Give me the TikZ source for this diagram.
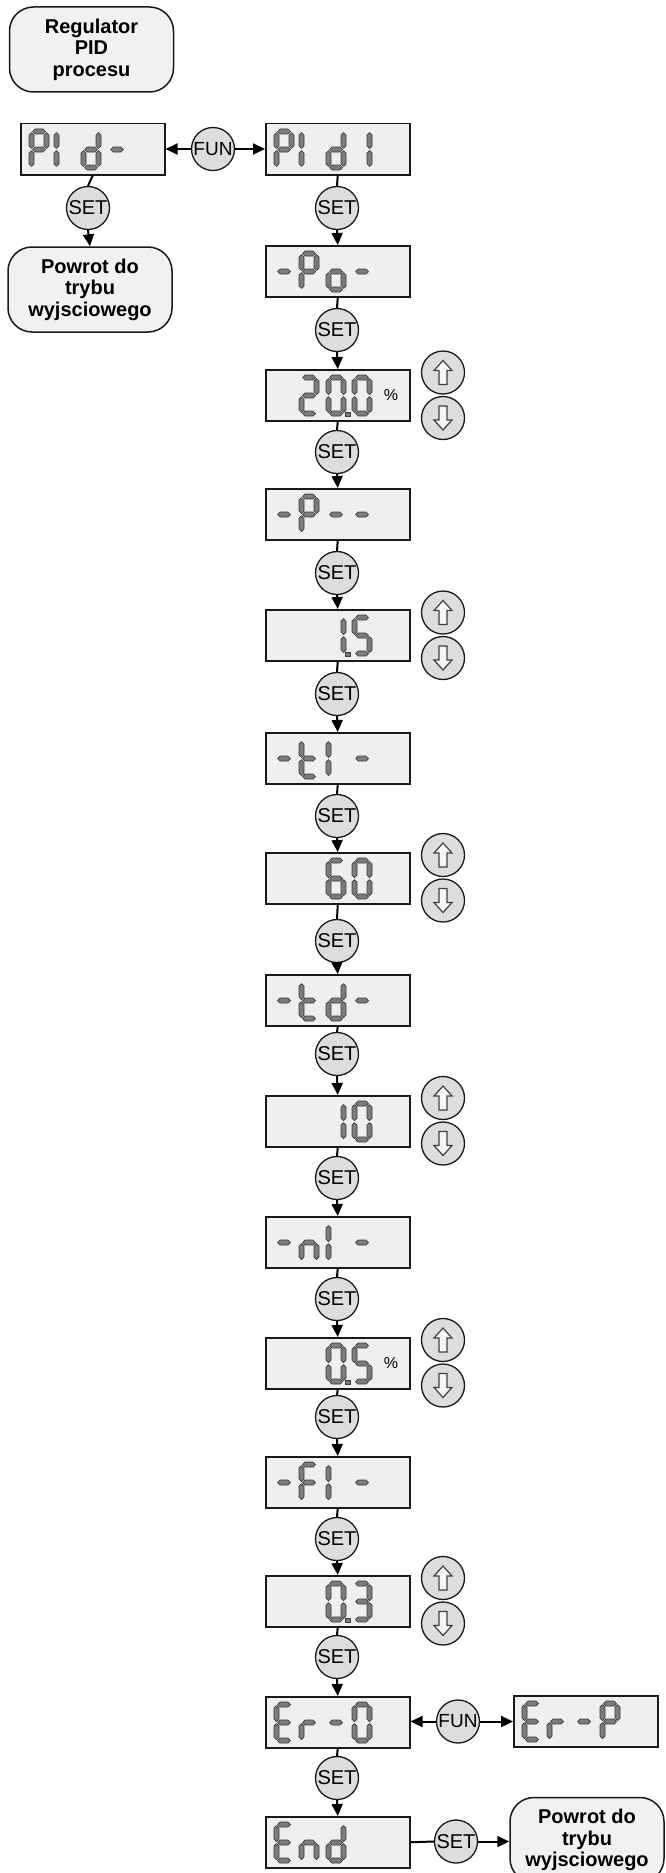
\documentclass[tikz,border=0pt]{standalone}
\usepackage{fontspec}
\setmainfont{Liberation Sans}
\usetikzlibrary{arrows.meta}
\definecolor{lcdfill}{HTML}{EFEFEF}
\definecolor{btnfill}{HTML}{DDDDDD}
\definecolor{rfill}{HTML}{F1F1F1}
\definecolor{segfill}{HTML}{7C7C7C}
\definecolor{segline}{HTML}{3A3A3A}
\definecolor{glyphfill}{HTML}{F6F6F6}
\tikzset{
  lcdbox/.style={draw=black!90, fill=lcdfill, line width=1.5pt, minimum width=144pt, minimum height=51pt, inner sep=0pt, anchor=north west},
  seg/.style={fill=segfill, draw=segline, line width=0.7pt, line join=round},
  btn/.style={circle, draw=black!90, fill=btnfill, line width=1.3pt, minimum size=43pt, inner sep=0pt, font=\fontsize{20}{20}\selectfont},
  funbtn/.style={btn, font=\fontsize{19}{19}\selectfont},
  rbox/.style={draw=black!90, fill=rfill, line width=1.5pt, rounded corners=24pt, minimum width=164pt, minimum height=85pt, align=center, inner sep=0pt, font=\fontsize{20}{21.5}\selectfont\bfseries},
  conn/.style={line width=2pt, black},
  arr/.style={conn, -{Triangle[width=11pt,length=12pt]}},
  glyph/.style={fill=glyphfill, draw=black!75, line width=1.2pt, line join=miter},
  pct/.style={font=\fontsize{16}{16}\selectfont, inner sep=0pt}
}
% seven segment helpers
\newcommand\hseg[3]{\pgfmathsetmacro\ha{#1}\pgfmathsetmacro\hb{#2}\pgfmathsetmacro\hy{#3}%
  \filldraw[seg] (\ha,\hy) -- ({\ha+2.5},{\hy-2.5}) -- ({\hb-2.5},{\hy-2.5}) -- (\hb,\hy) -- ({\hb-2.5},{\hy+2.5}) -- ({\ha+2.5},{\hy+2.5}) -- cycle;}
\newcommand\vseg[3]{\pgfmathsetmacro\vx{#1}\pgfmathsetmacro\va{#2}\pgfmathsetmacro\vb{#3}%
  \filldraw[seg] (\vx,\va) -- ({\vx+2.5},{\va+2.5}) -- ({\vx+2.5},{\vb-2.5}) -- (\vx,\vb) -- ({\vx-2.5},{\vb-2.5}) -- ({\vx-2.5},{\va+2.5}) -- cycle;}
\newcommand\sga{\hseg{\cx+3.5}{\cx+16.5}{\cy+2.5}}
\newcommand\sgg{\hseg{\cx+3.5}{\cx+16.5}{\cy+20.5}}
\newcommand\sgd{\hseg{\cx+3.5}{\cx+16.5}{\cy+38.5}}
\newcommand\sgf{\vseg{\cx+2.5}{\cy+3.5}{\cy+19.5}}
\newcommand\sge{\vseg{\cx+2.5}{\cy+21.5}{\cy+37.5}}
\newcommand\sgb{\vseg{\cx+17.5}{\cy+3.5}{\cy+19.5}}
\newcommand\sgc{\vseg{\cx+17.5}{\cy+21.5}{\cy+37.5}}
\newcommand\dig[3]{\pgfmathsetmacro\cx{#1}\pgfmathsetmacro\cy{#2}%
  \foreach \s in {#3}{\csname sg\s\endcsname}}
\newcommand\lcd[7]{%
  \node[lcdbox] (#1) at (#2,#3) {};
  \dig{#2+9}{#3+6}{#4}\dig{#2+34}{#3+6}{#5}\dig{#2+61}{#3+6}{#6}\dig{#2+87}{#3+6}{#7}}
\newcommand\dpt[2]{\filldraw[seg] ({#1+80.5},{#2+43}) rectangle ++(4.5,4.5);}
\newcommand\upg[1]{\draw[glyph] (#1.center) ++(0,-12) -- ++(9,10) -- ++(-5,0) -- ++(0,14) -- ++(-8,0) -- ++(0,-14) -- ++(-5,0) -- cycle;}
\newcommand\dng[1]{\draw[glyph] (#1.center) ++(0,12) -- ++(9,-10) -- ++(-5,0) -- ++(0,-14) -- ++(-8,0) -- ++(0,14) -- ++(-5,0) -- cycle;}
\begin{document}
\begin{tikzpicture}[x=1pt,y=-1pt]
\useasboundingbox (0,0) rectangle (665,1873);
\fill[white] (0,0) rectangle (665,1873);

% rounded boxes
\node[rbox] (start) at (91.5,49.5) {Regulator\\PID\\procesu};
\node[rbox] (back1) at (90,289.5) {Powrot do\\trybu\\wyjsciowego};
\node[rbox, minimum width=154pt] (back2) at (587,1840) {Powrot do\\trybu\\wyjsciowego};

% displays
\lcd{b0}{20}{123}{a,b,f,g,e}{e,f}{b,c,d,e,g}{g}
\lcd{b1}{265}{123}{a,b,f,g,e}{e,f}{b,c,d,e,g}{b,c}
\lcd{b2}{265}{245}{g}{a,b,f,g,e}{c,d,e,g}{g}
\lcd{b3}{265}{369}{}{a,b,g,e,d}{a,b,c,d,e,f}{a,b,c,d,e,f}\dpt{265}{369}
\lcd{b4}{265}{488}{g}{a,b,f,g,e}{g}{g}
\lcd{b5}{265}{609}{}{}{b,c}{a,f,g,c,d}\dpt{265}{609}
\lcd{b6}{265}{732}{g}{f,e,d,g}{e,f}{g}
\lcd{b7}{265}{852}{}{}{a,f,g,e,d,c}{a,b,c,d,e,f}
\lcd{b8}{265}{974}{g}{f,e,d,g}{b,c,d,e,g}{g}
\lcd{b9}{265}{1095}{}{}{b,c}{a,b,c,d,e,f}
\lcd{b10}{265}{1216}{g}{c,e,g}{e,f}{g}
\lcd{b11}{265}{1337}{}{}{a,b,c,d,e,f}{a,f,g,c,d}\dpt{265}{1337}
\lcd{b12}{265}{1456}{g}{a,f,g,e}{e,f}{g}
\lcd{b13}{265}{1575}{}{}{a,b,c,d,e,f}{a,b,g,c,d}\dpt{265}{1575}
\lcd{b14}{265}{1696}{a,f,g,e,d}{e,g}{g}{a,b,c,d,e,f}
\lcd{b15}{513}{1695}{a,f,g,e,d}{e,g}{g}{a,b,f,g,e}
\lcd{b16}{265}{1816}{a,f,g,e,d}{c,e,g}{b,c,d,e,g}{}

\node[pct] (pc1) at (391,395) {\%};
\node[pct] (pc2) at (391,1362.5) {\%};

% buttons
\node[funbtn] (f1) at (213,149) {FUN};
\node[funbtn] (f2) at (458,1721.5) {FUN};
\node[btn] (s0) at (88,208) {SET};
\node[btn] (s1) at (337,208) {SET};
\node[btn] (s2) at (337,330) {SET};
\node[btn] (s3) at (337,452) {SET};
\node[btn] (s4) at (337,573) {SET};
\node[btn] (s5) at (337,694) {SET};
\node[btn] (s6) at (337,816) {SET};
\node[btn] (s7) at (337,941) {SET};
\node[btn] (s8) at (337,1054) {SET};
\node[btn] (s9) at (337,1178) {SET};
\node[btn] (s10) at (337,1299) {SET};
\node[btn] (s11) at (337,1417) {SET};
\node[btn] (s12) at (337,1539) {SET};
\node[btn] (s13) at (337,1657) {SET};
\node[btn] (s14) at (337,1778) {SET};
\node[btn] (s15) at (456,1841.5) {SET};

% up/down buttons
\foreach \n/\c in {1/395, 2/635, 3/877.5, 4/1120.5, 5/1362.5, 6/1600.5}{
  \node[btn] (u\n) at (443,\c-22.5) {};
  \node[btn] (d\n) at (443,\c+23) {};
  \upg{u\n}
  \dng{d\n}
}

% connectors
\draw[arr] (f1.west) -- (f1.west -| b0.east);
\draw[arr] (f1.east) -- (f1.east -| b1.west);
\draw[conn] (b0.south) -- (s0.north);
\draw[arr] (s0.south) -- (back1.north);
\foreach \i/\j in {1/2,2/3,3/4,4/5,5/6,6/7,7/8,8/9,9/10,10/11,11/12,12/13,13/14}{
  \draw[conn] (b\i.south) -- (s\i.north);
  \draw[arr] (s\i.south) -- (b\j.north);
}
\draw[conn] (b14.south) -- (s14.north);
\draw[arr] (s14.south) -- (b16.north);
\draw[arr] (f2.west) -- (f2.west -| b14.east);
\draw[arr] (f2.east) -- (f2.east -| b15.west);
\draw[conn] (b16.east) -- (s15.west);
\draw[arr] (s15.east) -- (s15.east -| back2.west);
\end{tikzpicture}
\end{document}
